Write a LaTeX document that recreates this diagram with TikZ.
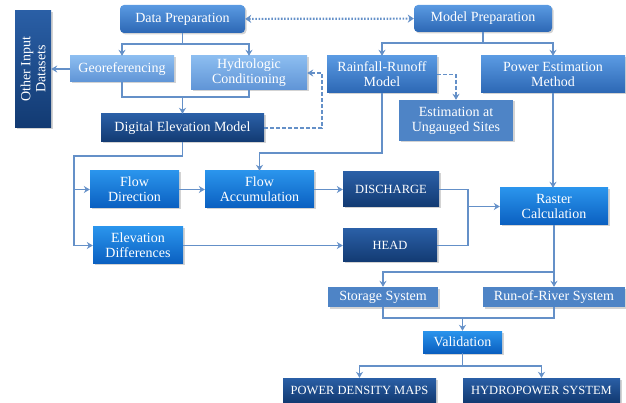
\documentclass[tikz,border=0pt]{standalone}
\usepackage{fontspec}
\setmainfont{Liberation Serif}
\usetikzlibrary{arrows.meta,shadows}

\definecolor{linec}{HTML}{6490C8}
\definecolor{midtop}{HTML}{5A9AE2}
\definecolor{midbot}{HTML}{2C67B4}
\definecolor{lighttop}{HTML}{8CBDF0}
\definecolor{lightbot}{HTML}{5F94D6}
\definecolor{darktop}{HTML}{2A5FA6}
\definecolor{darkbot}{HTML}{123A72}
\definecolor{brighttop}{HTML}{2A94EC}
\definecolor{brightbot}{HTML}{0A5FC0}
\definecolor{slate}{HTML}{4E84C6}

\begin{document}
\begin{tikzpicture}[x=1pt,y=-1pt]
        \tikzstyle{every node}=[inner sep=1pt, align=center, text=white, font=\fontsize{14}{15}\selectfont]
        \tikzstyle{box}=[rectangle, drop shadow={shadow xshift=1.5pt, shadow yshift=-1.5pt, opacity=0.35}]
        \tikzstyle{mid}=[box, top color=midtop, bottom color=midbot]
        \tikzstyle{light}=[box, top color=lighttop, bottom color=lightbot]
        \tikzstyle{dark}=[box, top color=darktop, bottom color=darkbot]
        \tikzstyle{bright}=[box, top color=brighttop, bottom color=brightbot]
        \tikzstyle{flat}=[box, fill=slate]
        \tikzstyle{caps}=[font=\fontsize{12.5}{15}\selectfont]
        \tikzstyle{link}=[draw=linec, line width=1.6pt]
        \tikzstyle{arr}=[link, -{Stealth[length=6pt,width=7pt]}]

        \useasboundingbox (0,0) rectangle (626,403);

        % preparation
        \node (dp)   [mid, rounded corners=4pt, minimum width=125pt, minimum height=28pt] at (182.5,19) {Data Preparation};
        \node (mp)   [mid, rounded corners=4pt, minimum width=138pt, minimum height=27pt] at (483,18.5) {Model Preparation};
        \node (geo)  [light, minimum width=104pt, minimum height=26pt] at (122,69) {Georeferencing};
        \node (hyd)  [light, minimum width=116pt, minimum height=34pt] at (249,73) {Hydrologic\\Conditioning};
        \node (oid)  [dark, rotate=90, minimum width=117pt, minimum height=36pt] at (33,69) {Other Input\\Datasets};
        \node (dem)  [dark, minimum width=163pt, minimum height=28pt] at (182.5,128) {Digital Elevation Model};
        \node (rr)   [mid, minimum width=110pt, minimum height=37pt] at (382,74.5) {Rainfall-Runoff\\Model};
        \node (pe)   [mid, minimum width=144pt, minimum height=37pt] at (553,74.5) {Power Estimation\\Method};
        \node (eus)  [flat, minimum width=114pt, minimum height=41pt] at (456,120.5) {Estimation at\\Ungauged Sites};

        % raster steps
        \node (fd)   [bright, minimum width=89pt, minimum height=37pt] at (134.5,189.5) {Flow\\Direction};
        \node (fa)   [bright, minimum width=109pt, minimum height=37pt] at (259.5,189.5) {Flow\\Accumulation};
        \node (ed)   [bright, minimum width=90pt, minimum height=37pt] at (138,245.5) {Elevation\\Differences};
        \node (dis)  [dark, caps, minimum width=96pt, minimum height=35pt] at (391,189.5) {DISCHARGE};
        \node (head) [dark, caps, minimum width=94pt, minimum height=33pt] at (390,245.5) {HEAD};
        \node (rc)   [bright, minimum width=108pt, minimum height=37pt] at (554,206.5) {Raster\\Calculation};

        % systems and results
        \node (ss)   [flat, minimum width=110pt, minimum height=20pt] at (383,297) {Storage System};
        \node (ror)  [flat, minimum width=142pt, minimum height=20pt] at (554,297) {Run-of-River System};
        \node (val)  [bright, minimum width=79pt, minimum height=22pt] at (462.5,342) {Validation};
        \node (pdm)  [dark, caps, minimum width=153pt, minimum height=24pt] at (359.5,390) {POWER DENSITY MAPS};
        \node (hps)  [dark, caps, minimum width=157pt, minimum height=24pt] at (541.5,390) {HYDROPOWER SYSTEM};

        \coordinate (dpj) at (182.5,44);
        \coordinate (mpj) at (483,43);
        \coordinate (gj)  at (182.5,97);
        \coordinate (dmx) at (322,100);
        \coordinate (rrj) at (320,153);
        \coordinate (dj)  at (74,156);
        \coordinate (mj)  at (468,206.5);
        \coordinate (rj)  at (554,272);
        \coordinate (sj)  at (462.5,318);
        \coordinate (vj)  at (462.5,366);

        \draw[link, line width=2.2pt, dash pattern=on 1.6pt off 1.6pt, {Stealth[length=6pt,width=8pt]}-{Stealth[length=6pt,width=8pt]}] (dp) -- (mp);
        \draw[link] (dp) -- (dpj);
        \draw[arr] (dpj) -| (geo);
        \draw[arr] (dpj) -| (hyd);
        \draw[arr] (geo) -- (oid);
        \draw[link] (geo.south) |- (gj) -| (hyd.south);
        \draw[arr] (gj) -- (dem);
        \draw[arr, dash pattern=on 4pt off 2pt] (dem.east) -| (dmx) |- (hyd.east);

        \draw[link] (mp) -- (mpj);
        \draw[arr] (mpj) -| (rr);
        \draw[arr] (mpj) -| (pe);
        \draw[arr, dash pattern=on 4pt off 2pt] (rr.east) -| (eus.north);
        \draw[arr] (rr.south) |- (rrj) -| (fa.north);
        \draw[arr] (pe.south) -- (pe.south |- rc.north);

        \draw[arr] (dem.south) |- (dj) |- (ed.west);
        \draw[arr] (dj |- fd.west) -- (fd.west);
        \draw[arr] (fd) -- (fa);
        \draw[arr] (fa) -- (dis);
        \draw[arr] (ed) -- (head);
        \draw[link] (dis.east) -| (mj);
        \draw[link] (head.east) -| (mj);
        \draw[arr] (mj) -- (rc.west);

        \draw[link] (rc.south) -- (rj);
        \draw[arr] (rj) -| (ss.north);
        \draw[arr] (rj) -- (ror.north);
        \draw[link] (ss.south) |- (sj) -| (ror.south);
        \draw[arr] (sj) -- (val.north);
        \draw[link] (val.south) -- (vj);
        \draw[arr] (vj) -| (pdm.north);
        \draw[arr] (vj) -| (hps.north);

\end{tikzpicture}
\end{document}
